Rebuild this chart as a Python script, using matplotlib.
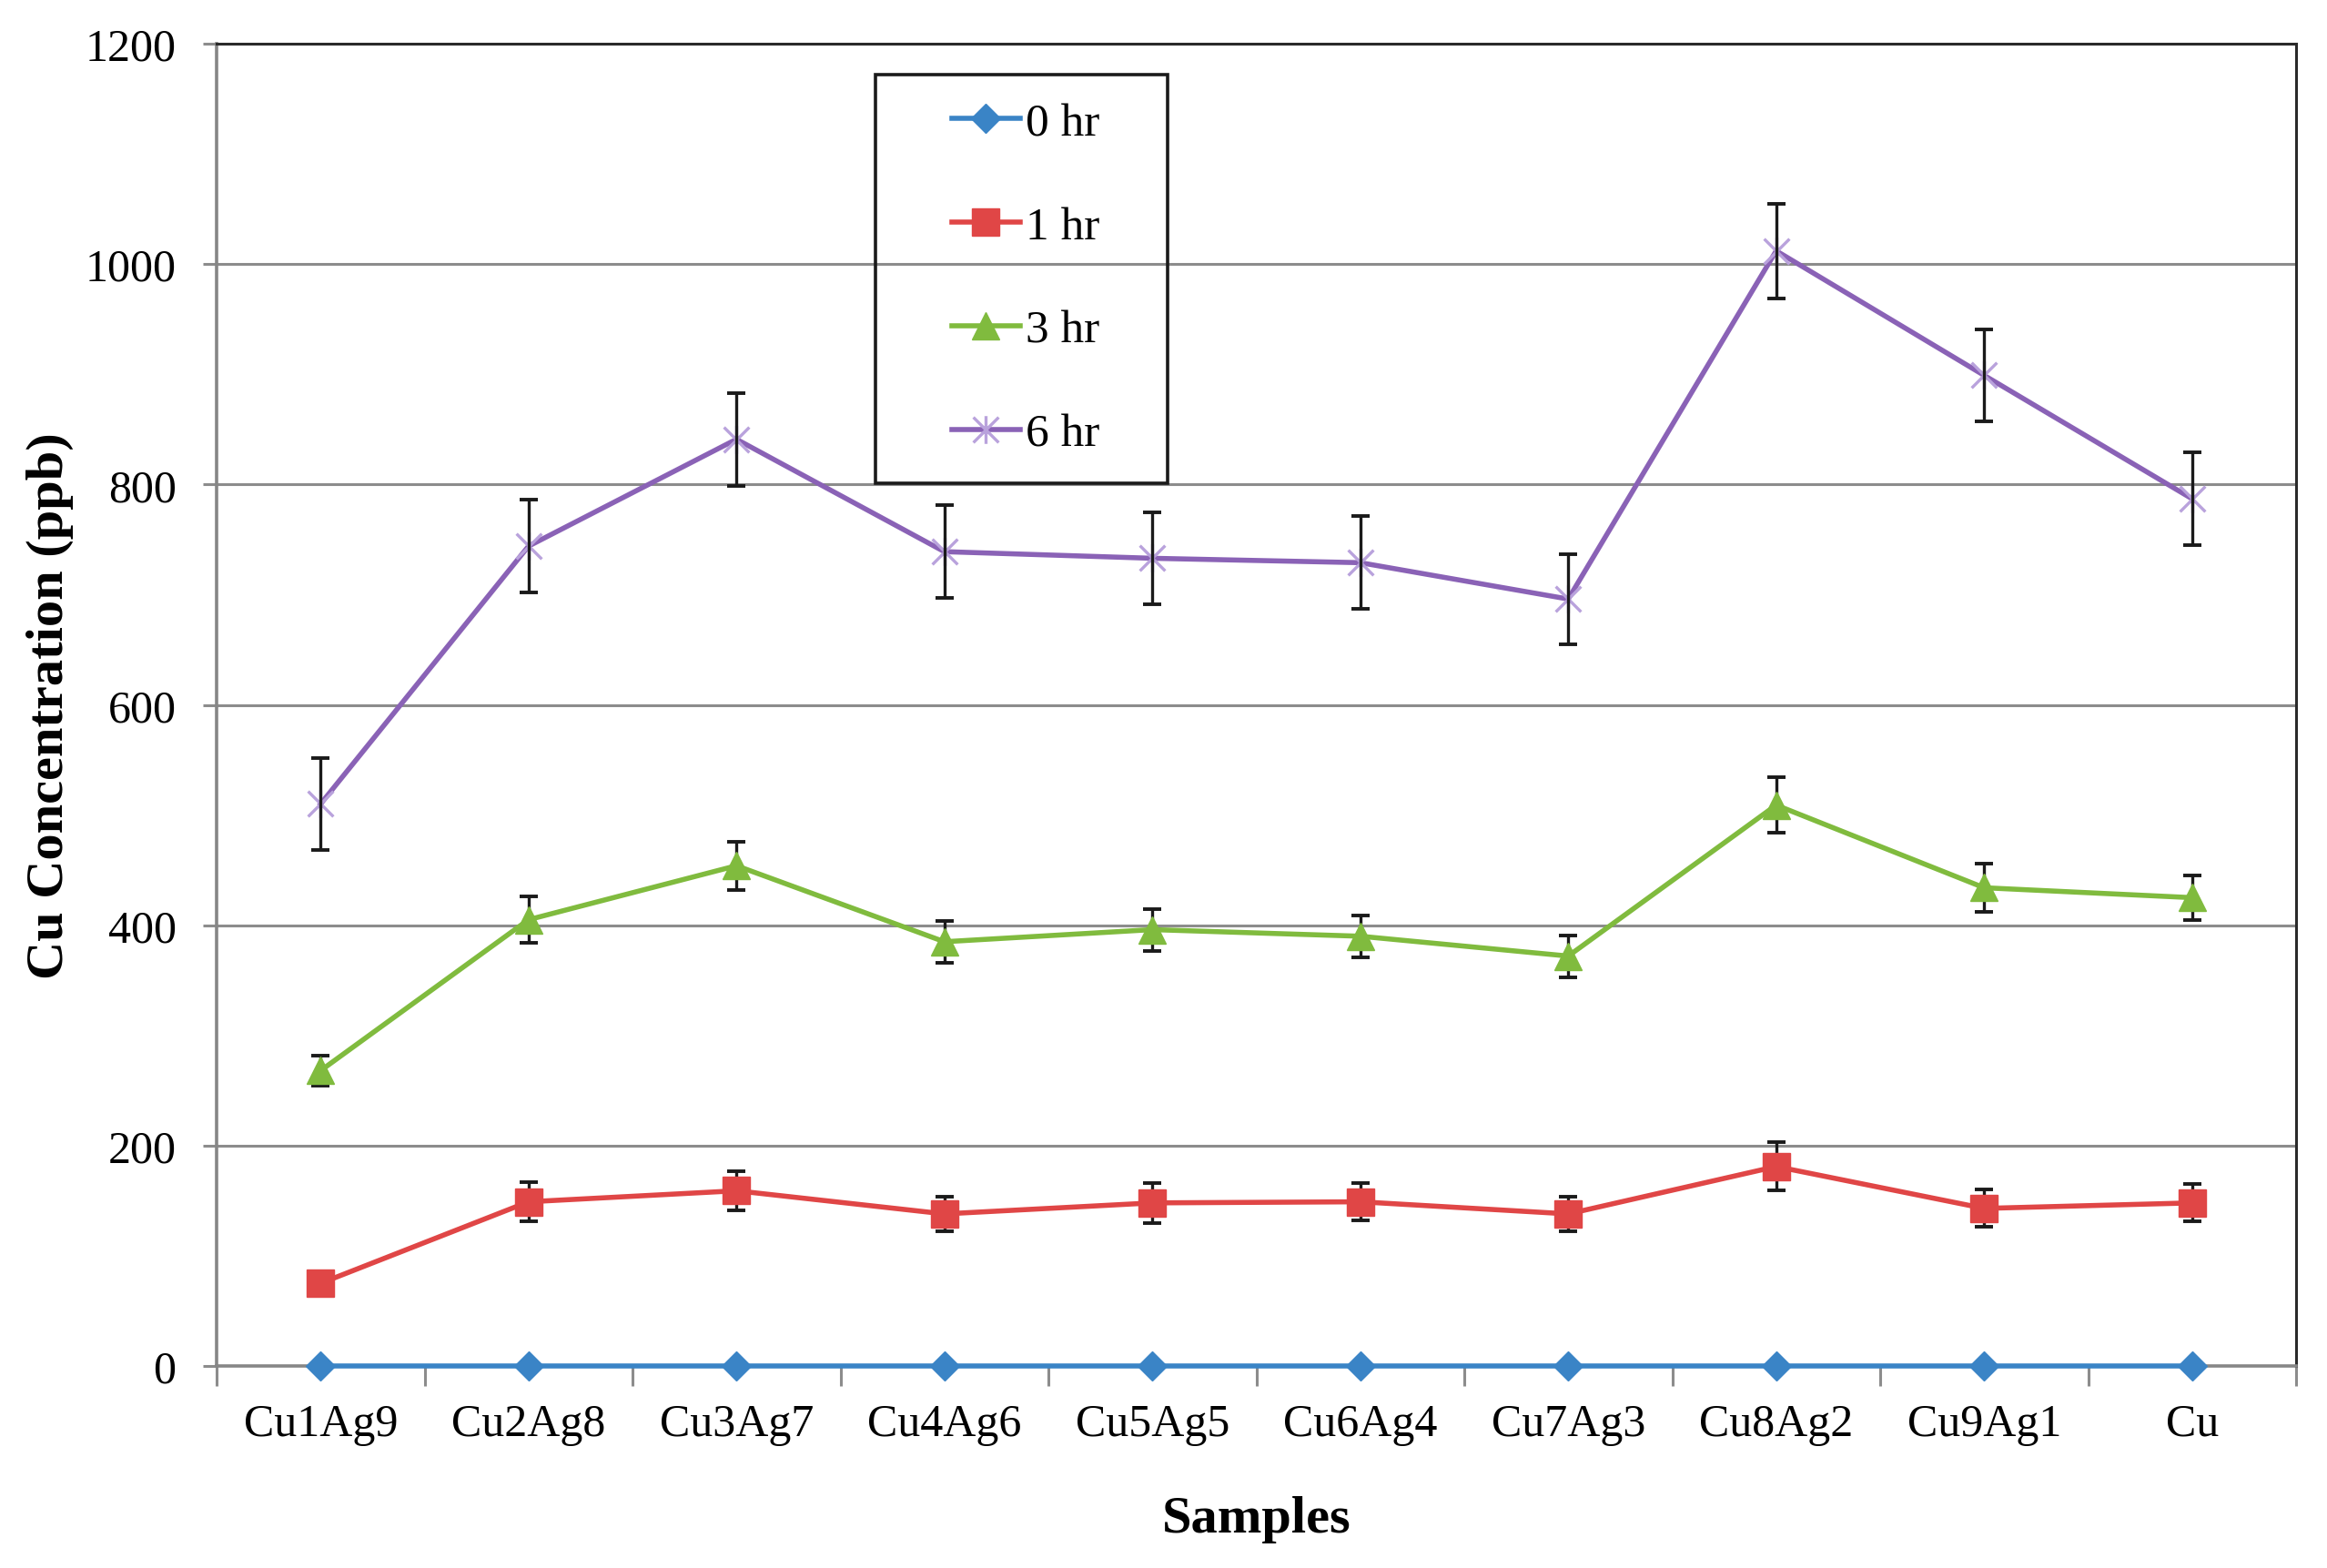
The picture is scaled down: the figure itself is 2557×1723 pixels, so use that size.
import matplotlib
matplotlib.use("Agg")
import matplotlib.pyplot as plt
from matplotlib.path import Path
from matplotlib.patches import Rectangle
from matplotlib.ticker import FixedLocator
import numpy as np

categories = ['Cu1Ag9', 'Cu2Ag8', 'Cu3Ag7', 'Cu4Ag6', 'Cu5Ag5',
              'Cu6Ag4', 'Cu7Ag3', 'Cu8Ag2', 'Cu9Ag1', 'Cu']
series_labels = ['0 hr', '1 hr', '3 hr', '6 hr']
hr0 = [0, 0, 0, 0, 0, 0, 0, 0, 0, 0]
hr1 = [75, 149, 159, 138, 148, 149, 138, 181, 143, 148]
hr1_err = [6, 18, 18, 16, 18, 17, 16, 22, 17, 17]
hr3 = [268, 405, 454, 385, 396, 390, 372, 509, 434, 425]
hr3_err = [14, 21, 22, 19, 19, 19, 19, 25, 22, 20]
hr6 = [510, 744, 841, 739, 733, 729, 696, 1012, 899, 787]
hr6_err = [42, 42, 42, 42, 42, 42, 41, 43, 42, 42]
y_ticks = [0, 200, 400, 600, 800, 1000, 1200]

plt.rcParams['font.family'] = ['Liberation Serif', 'DejaVu Serif']

W, H, DPI = 2557, 1724, 100
fig = plt.figure(figsize=(W / DPI, H / DPI), dpi=DPI)
ax = fig.add_axes([238 / W, 1 - 1502 / H, (2523 - 238) / W, (1502 - 49) / H])

x = np.arange(len(categories))

star = Path([(-1, -1), (1, 1), (-1, 1), (1, -1), (0, -1.1), (0, 1.1)],
            [Path.MOVETO, Path.LINETO, Path.MOVETO, Path.LINETO, Path.MOVETO, Path.LINETO])

blue, red, green, purple = '#3a84c6', '#e04646', '#80bb3e', '#8a62b6'

# error bars (behind markers)
for vals, errs in [(hr1, hr1_err), (hr3, hr3_err), (hr6, hr6_err)]:
    ax.errorbar(x, vals, yerr=errs, fmt='none', ecolor='#1a1a1a', elinewidth=2.4,
                capsize=7.5, capthick=2.8, zorder=3)

l0, = ax.plot(x, hr0, color=blue, lw=4, marker='D', ms=16.5, mfc=blue, mec=blue,
              clip_on=False, zorder=4, label=series_labels[0])
l1, = ax.plot(x, hr1, color=red, lw=4, marker='s', ms=22, mfc=red, mec=red,
              clip_on=False, zorder=4, label=series_labels[1])
l3, = ax.plot(x, hr3, color=green, lw=4, marker='^', ms=22, mfc=green, mec=green,
              clip_on=False, zorder=4, label=series_labels[2])
l6, = ax.plot(x, hr6, color=purple, lw=4, marker=star, ms=22, mfc='none',
              mec='#b9a2dc', mew=2.4, clip_on=False, zorder=2.5, label=series_labels[3])

ax.set_xlim(-0.5, len(categories) - 0.5)
ax.set_ylim(0, 1200)
ax.set_yticks(y_ticks)
ax.set_xticks(x)
ax.set_xticklabels(categories)
ax.xaxis.set_minor_locator(FixedLocator(np.arange(-0.5, len(categories), 1.0)))

ax.grid(axis='y', color='#8c8c8c', lw=2.2, zorder=0)
ax.set_axisbelow(True)

ax.tick_params(axis='x', which='major', length=0, pad=29, labelsize=36)
ax.tick_params(axis='x', which='minor', length=16, width=2.2, color='#8c8c8c', direction='out')
ax.tick_params(axis='y', which='major', length=11, width=2.2, color='#8c8c8c',
               direction='out', pad=21, labelsize=36)

for s in ['left', 'bottom']:
    ax.spines[s].set_color('#868686')
    ax.spines[s].set_linewidth(2.6)
for s in ['top', 'right']:
    ax.spines[s].set_color('#2a2a2a')
    ax.spines[s].set_linewidth(2.2)

ax.set_ylabel('Cu Concentration (ppb)', fontsize=42, fontweight='bold', labelpad=9)
ax.set_xlabel('Samples', fontsize=42, fontweight='bold', labelpad=40)

# legend box
bx0 = (962 - 238) / 2285
bx1 = (1283 - 238) / 2285
by0 = (1502 - 532) / 1453
by1 = (1502 - 83) / 1453
ax.add_patch(Rectangle((bx0, by0), bx1 - bx0, by1 - by0, transform=ax.transAxes,
                       fill=False, ec='#1a1a1a', lw=2.6, zorder=6, clip_on=False))
leg = ax.legend(handles=[l0, l1, l3, l6], loc='center',
                bbox_to_anchor=((bx0 + bx1) / 2 + 0.002, (by0 + by1) / 2),
                frameon=False, fontsize=37, handlelength=1.45, handletextpad=0.12,
                labelspacing=1.3, borderpad=0.3)
leg.set_zorder(7)

fig.savefig('out.png', dpi=DPI, facecolor='white')
